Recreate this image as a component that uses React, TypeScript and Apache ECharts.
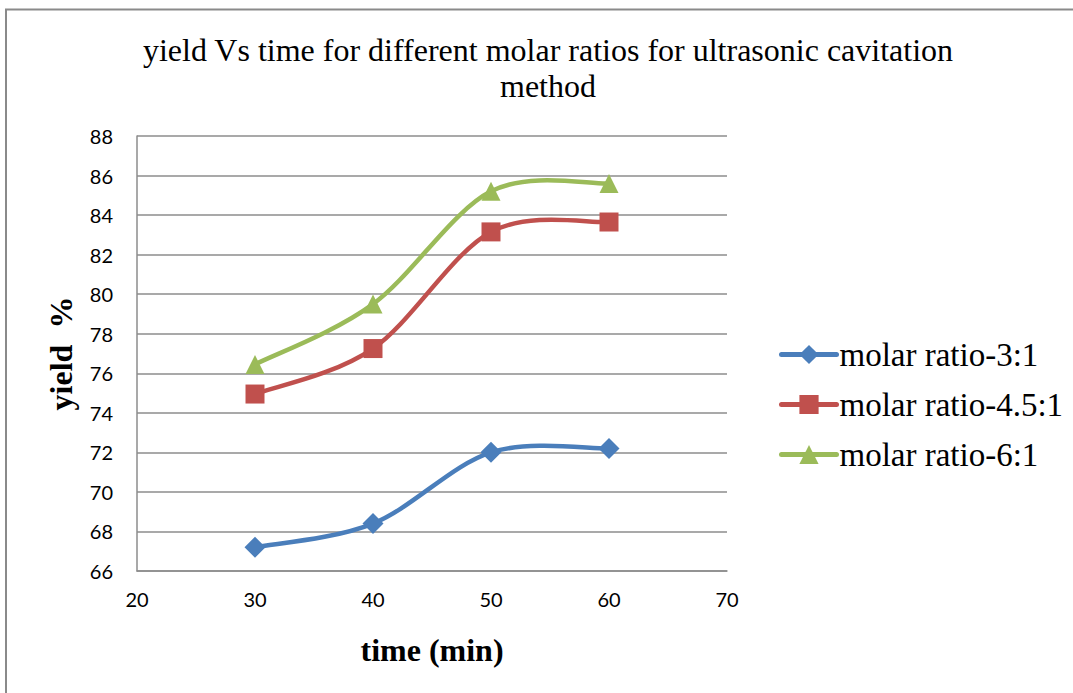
import React, { useEffect, useRef } from "react";
import * as echarts from "echarts";

const times = [30, 40, 50, 60];
const ratio3 = [67.2, 68.4, 72.0, 72.2];
const ratio45 = [74.95, 77.25, 83.15, 83.65];
const ratio6 = [76.45, 79.5, 85.2, 85.6];
const seriesNames = ["molar ratio-3:1", "molar ratio-4.5:1", "molar ratio-6:1"];
const colors = ["#4A7EBB", "#C0504D", "#9BBB59"];
const symbols = ["diamond", "rect", "triangle"];
const allSeries = [ratio3, ratio45, ratio6];

const pairs = (vals: number[]) => times.map((t, i) => [t, vals[i]]);

// Excel-like smoothed curve (Catmull-Rom style Bezier) through points mapped by the axis scales
function smoothPath(pts: number[][]) {
  let d = `M${pts[0][0]},${pts[0][1]}`;
  for (let i = 0; i < pts.length - 1; i++) {
    const p0 = pts[i - 1] || pts[i];
    const p1 = pts[i];
    const p2 = pts[i + 1];
    const p3 = pts[i + 2] || pts[i + 1];
    const c1x = p1[0] + (p2[0] - p0[0]) / 6;
    const c1y = p1[1] + (p2[1] - p0[1]) / 6;
    const c2x = p2[0] - (p3[0] - p1[0]) / 6;
    const c2y = p2[1] - (p3[1] - p1[1]) / 6;
    d += ` C${c1x},${c1y} ${c2x},${c2y} ${p2[0]},${p2[1]}`;
  }
  return d;
}

export default function App() {
  const ref = useRef<HTMLDivElement>(null);
  useEffect(() => {
    if (!ref.current) return;
    const chart = echarts.init(ref.current, null, { renderer: "svg" });
    const serif = "'Liberation Serif', 'Times New Roman', serif";
    const sans = "Lato, 'Open Sans', sans-serif";
    const gridColor = "#8c8c8c";

    const curveSeries = allSeries.map((vals, si) => ({
      name: "curve" + si,
      type: "custom",
      z: 1,
      data: [0],
      renderItem: (params: any, api: any) => {
        const pts = pairs(vals).map((p) => api.coord(p));
        return {
          type: "path",
          shape: { pathData: smoothPath(pts) },
          style: { fill: "none", stroke: colors[si], lineWidth: 4.5, lineCap: "round", lineJoin: "round" },
        };
      },
      silent: true,
    }));

    const markerSeries = allSeries.map((vals, si) => ({
      name: seriesNames[si],
      type: "line",
      z: 3,
      data: pairs(vals),
      symbol: symbols[si],
      symbolSize: si === 0 ? 21 : 19,
      lineStyle: { color: colors[si], width: 0, opacity: 0 },
      itemStyle: { color: colors[si] },
    }));

    chart.setOption({
      animation: false,
      backgroundColor: "#fff",
      title: {
        text: "yield Vs time for different molar ratios for ultrasonic cavitation\nmethod",
        left: 543,
        textAlign: "center",
        top: 27,
        textStyle: { fontFamily: serif, fontSize: 32, fontWeight: "normal", color: "#000", lineHeight: 36 },
      },
      graphic: [
        {
          type: "rect",
          shape: { x: 6, y: 9.5, width: 1200, height: 800 },
          style: { fill: "none", stroke: "#8a8a8a", lineWidth: 2 },
          silent: true,
        },
      ],
      legend: {
        orient: "vertical",
        left: 774,
        top: 333,
        itemWidth: 55,
        itemHeight: 24,
        itemGap: 17,
        lineStyle: { width: 5, opacity: 1, cap: "round" },
        textStyle: { fontFamily: serif, fontSize: 33, color: "#000", padding: [0, 0, 0, -2] },
        data: seriesNames,
      },
      grid: { left: 137, right: 346, top: 136, bottom: 122 },
      xAxis: {
        type: "value",
        min: 20,
        max: 70,
        interval: 10,
        name: "time (min)",
        nameLocation: "middle",
        nameGap: 63,
        nameTextStyle: { fontFamily: serif, fontSize: 32, fontWeight: "bold", color: "#000" },
        axisLine: { show: true, lineStyle: { color: gridColor, width: 1.5 } },
        axisTick: { show: false },
        splitLine: { show: false },
        axisLabel: { fontFamily: sans, fontSize: 20, color: "#000", margin: 18 },
      },
      yAxis: {
        type: "value",
        min: 66,
        max: 88,
        interval: 2,
        name: "yield  %",
        nameLocation: "middle",
        nameGap: 60,
        nameTextStyle: { fontFamily: serif, fontSize: 32, fontWeight: "bold", color: "#000" },
        axisLine: { show: true, lineStyle: { color: gridColor, width: 1.5 } },
        axisTick: { show: false },
        splitLine: { show: true, lineStyle: { color: gridColor, width: 1.5 } },
        axisLabel: { fontFamily: sans, fontSize: 20, color: "#000", margin: 24 },
      },
      series: [...curveSeries, ...markerSeries],
    });
    return () => chart.dispose();
  }, []);
  return (
    <div
      ref={ref}
      style={{ position: "absolute", left: 0, top: 0, width: 1073, height: 693 }}
    />
  );
}
